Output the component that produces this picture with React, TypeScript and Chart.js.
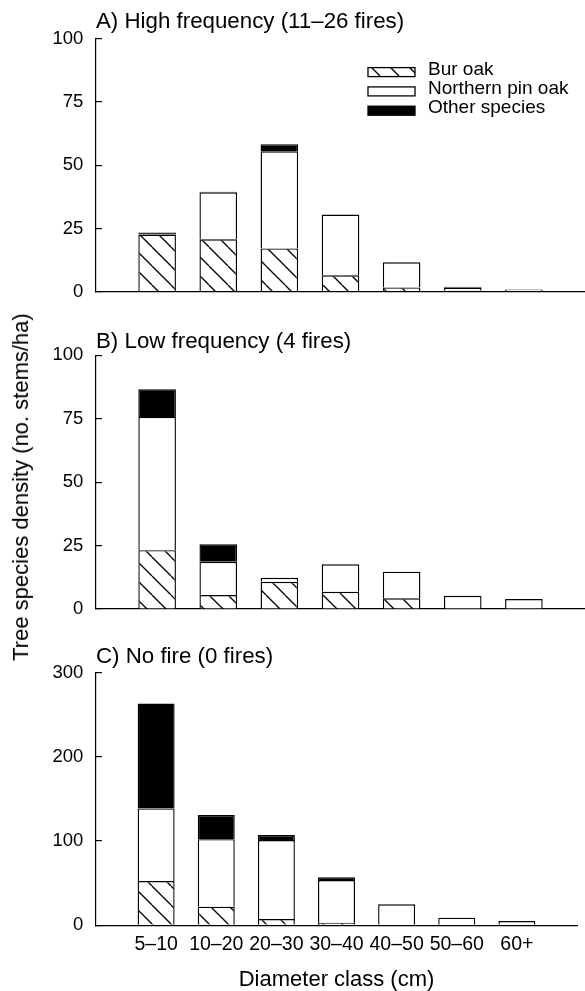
import React, { useEffect, useRef } from 'react';
import { Chart, registerables } from 'chart.js';

Chart.register(...registerables);

const FONT = '"Liberation Sans", Arial, Helvetica, sans-serif';

// Categories and series
const diameterClasses = ['5–10', '10–20', '20–30', '30–40', '40–50', '50–60', '60+'];
const seriesNames = ['Bur oak', 'Northern pin oak', 'Other species'];

// A) High frequency (11–26 fires)
const highTitle = 'A) High frequency (11–26 fires)';
const highBurOak = [22.6, 20.7, 17.1, 6.5, 1.7, 0.4, null];
const highPinOak = [null, 18.6, 38.4, 24.0, 9.9, 1.2, 0.9];
const highOther = [0.8, 0.2, 2.8, null, null, 0.4, null];
const highTicks = { max: 100, step: 25 };

// B) Low frequency (4 fires)
const lowTitle = 'B) Low frequency (4 fires)';
const lowBurOak = [23.2, 5.5, 10.7, 6.8, 4.2, null, null];
const lowPinOak = [52.5, 13.1, 1.6, 10.8, 10.5, 5.2, 3.9];
const lowOther = [10.9, 6.9, null, null, null, null, null];
const lowTicks = { max: 100, step: 25 };

// C) No fire (0 fires)
const noTitle = 'C) No fire (0 fires)';
const noBurOak = [52.5, 22.1, 7.5, 3.1, 0.8, null, null];
const noPinOak = [86.2, 80.2, 93.7, 50.7, 24.1, 9.0, 5.0];
const noOther = [124.6, 28.5, 5.9, 3.2, null, null, null];
const noTicks = { max: 300, step: 100 };

const yAxisTitle = 'Tree species density (no. stems/ha)';
const xAxisTitle = 'Diameter class (cm)';

function makeHatch(spacing: number, lw: number): CanvasPattern | string {
  const c = document.createElement('canvas');
  c.width = spacing;
  c.height = spacing;
  const g = c.getContext('2d');
  if (!g) return '#fff';
  g.fillStyle = '#fff';
  g.fillRect(0, 0, spacing, spacing);
  g.strokeStyle = '#000';
  g.lineWidth = lw;
  for (const o of [-spacing, 0, spacing]) {
    g.beginPath();
    g.moveTo(o, 0);
    g.lineTo(o + spacing, spacing);
    g.stroke();
  }
  return g.createPattern(c, 'repeat') || '#fff';
}

const boxLegend = {
  id: 'boxLegend',
  afterDraw(chart: any, _args: any, opts: any) {
    if (!opts || !opts.show) return;
    const { ctx, chartArea } = chart;
    const x0 = chartArea.right + opts.offsetX;
    ctx.save();
    chart.data.datasets.forEach((ds: any, i: number) => {
      const y = chartArea.top + opts.offsetY + i * opts.rowGap;
      ctx.fillStyle = ds.backgroundColor;
      ctx.fillRect(x0, y, opts.boxW, opts.boxH);
      ctx.strokeStyle = '#000';
      ctx.lineWidth = 1.3;
      ctx.strokeRect(x0, y, opts.boxW, opts.boxH);
      ctx.fillStyle = '#000';
      ctx.font = `${opts.fontSize}px ${FONT}`;
      ctx.textBaseline = 'alphabetic';
      ctx.textAlign = 'left';
      ctx.fillText(ds.label, x0 + opts.boxW + opts.textGap, y + opts.boxH - 2);
    });
    ctx.restore();
  },
};

type PanelProps = {
  top: number;
  height: number;
  title: string;
  bur: (number | null)[];
  pin: (number | null)[];
  other: (number | null)[];
  yMax: number;
  yStep: number;
  titlePad: { top: number; bottom: number };
  xHeight: number;
  showLegend?: boolean;
  showX?: boolean;
};

function Panel(p: PanelProps) {
  const ref = useRef<HTMLCanvasElement>(null);
  useEffect(() => {
    const canvas = ref.current;
    if (!canvas) return;
    const hatch = makeHatch(19, 1.3);
    const labels = ['', ...diameterClasses, ''];
    const pad = (arr: (number | null)[]) => [null, ...arr, null];
    const common = {
      borderColor: '#000',
      borderWidth: 1.4,
      barPercentage: 0.615,
      categoryPercentage: 1,
    };
    const chart = new Chart(canvas, {
      type: 'bar',
      data: {
        labels,
        datasets: [
          { label: seriesNames[0], data: pad(p.bur), backgroundColor: hatch as any, ...common },
          { label: seriesNames[1], data: pad(p.pin), backgroundColor: '#fff', ...common },
          { label: seriesNames[2], data: pad(p.other), backgroundColor: '#000', ...common },
        ],
      },
      options: {
        animation: false,
        responsive: false,
        maintainAspectRatio: false,
        layout: { padding: 0 },
        plugins: {
          legend: { display: false },
          tooltip: { enabled: false },
          title: {
            display: true,
            text: p.title,
            align: 'start',
            fullSize: false,
            color: '#000',
            font: { family: FONT, size: 22.3, weight: 'normal', lineHeight: 1 },
            padding: p.titlePad,
          },
          boxLegend: {
            show: !!p.showLegend,
            offsetX: -217,
            offsetY: 29,
            rowGap: 19.3,
            boxW: 47,
            boxH: 9,
            textGap: 13,
            fontSize: 19,
          },
        } as any,
        scales: {
          x: {
            type: 'category',
            offset: false,
            stacked: true,
            grid: { display: false, drawTicks: false, tickLength: 0 },
            border: { display: true, color: '#000', width: 1.2 },
            ticks: {
              display: !!p.showX,
              autoSkip: false,
              maxRotation: 0,
              padding: 8,
              color: '#000',
              font: { family: FONT, size: 19.5 },
            },
            title: {
              display: !!p.showX,
              text: xAxisTitle,
              color: '#000',
              font: { family: FONT, size: 22, lineHeight: 1 },
              padding: { top: 0, bottom: 0 },
            },
            afterFit: (s: any) => {
              s.height = p.xHeight;
            },
          },
          y: {
            stacked: true,
            min: 0,
            max: p.yMax,
            ticks: {
              stepSize: p.yStep,
              padding: 18.7,
              color: '#000',
              font: { family: FONT, size: 18.5 },
            },
            grid: {
              drawOnChartArea: false,
              drawTicks: true,
              tickLength: -6,
              color: '#000',
              lineWidth: 1.2,
            },
            border: { display: true, color: '#000', width: 1.2 },
            afterFit: (s: any) => {
              s.width = 96;
              s.paddingTop = 0;
              s.paddingBottom = 0;
            },
          },
        } as any,
      },
      plugins: [boxLegend as any],
    });
    return () => chart.destroy();
  }, []);
  return (
    <canvas
      ref={ref}
      width={585}
      height={p.height}
      style={{ position: 'absolute', left: 0, top: p.top, width: 585, height: p.height }}
    />
  );
}

export default function App() {
  return (
    <div style={{ position: 'absolute', left: 0, top: 0, width: 585, height: 991, background: '#fff' }}>
      <Panel
        top={0}
        height={310}
        title={highTitle}
        bur={highBurOak}
        pin={highPinOak}
        other={highOther}
        yMax={highTicks.max}
        yStep={highTicks.step}
        titlePad={{ top: 11, bottom: 5.3 }}
        xHeight={18.3}
        showLegend
      />
      <Panel
        top={310}
        height={310}
        title={lowTitle}
        bur={lowBurOak}
        pin={lowPinOak}
        other={lowOther}
        yMax={lowTicks.max}
        yStep={lowTicks.step}
        titlePad={{ top: 21.2, bottom: 1.8 }}
        xHeight={11}
      />
      <Panel
        top={620}
        height={371}
        title={noTitle}
        bur={noBurOak}
        pin={noPinOak}
        other={noOther}
        yMax={noTicks.max}
        yStep={noTicks.step}
        titlePad={{ top: 26.2, bottom: 4.1 }}
        xHeight={65.7}
        showX
      />
      <div
        style={{
          position: 'absolute',
          left: 21,
          top: 487,
          transform: 'translate(-50%, -50%) rotate(-90deg)',
          font: `22px ${FONT}`,
          lineHeight: 1,
          whiteSpace: 'nowrap',
          color: '#000',
        }}
      >
        {yAxisTitle}
      </div>
    </div>
  );
}
